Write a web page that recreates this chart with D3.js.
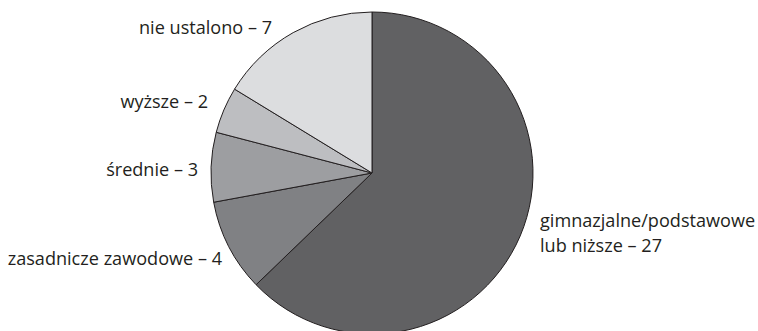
<!DOCTYPE html>
<html>
<head>
<meta charset="utf-8">
<script src="https://cdn.jsdelivr.net/npm/d3@7"></script>
<style>
  html, body { margin: 0; padding: 0; background: #ffffff; }
  svg { display: block; }
  text { font-family: "Open Sans", "Noto Sans", sans-serif; font-size: 18.1px; fill: #231f20; }
</style>
</head>
<body>
<svg id="chart" width="758" height="331"></svg>
<script>
// Education level categories and counts
const categories = [
  "gimnazjalne/podstawowe lub niższe",
  "zasadnicze zawodowe",
  "średnie",
  "wyższe",
  "nie ustalono"
];
const values = [27, 4, 3, 2, 7];
const labelLines = [
  ["gimnazjalne/podstawowe", "lub niższe – 27"],
  ["zasadnicze zawodowe – 4"],
  ["średnie – 3"],
  ["wyższe – 2"],
  ["nie ustalono – 7"]
];
const fills = ["#616163", "#808184", "#9d9ea1", "#bdbec1", "#dcdddf"];

// Label anchors (x, baseline y, anchor) for each slice
const labelLayout = [
  { x: 540, y: 227, anchor: "start" },
  { x: 222, y: 265, anchor: "end" },
  { x: 198, y: 176, anchor: "end" },
  { x: 208, y: 108, anchor: "end" },
  { x: 272, y: 34, anchor: "end" }
];

const cx = 372, cy = 173, radius = 161;
const svg = d3.select("#chart");

const pie = d3.pie().sort(null).value(d => d.value);
const arc = d3.arc().innerRadius(0).outerRadius(radius);

const data = categories.map((c, i) => ({ category: c, value: values[i], i }));

const g = svg.append("g").attr("transform", `translate(${cx},${cy})`);
g.selectAll("path")
  .data(pie(data))
  .join("path")
  .attr("d", arc)
  .attr("fill", d => fills[d.data.i])
  .attr("stroke", "#231f20")
  .attr("stroke-width", 1)
  .attr("stroke-linejoin", "round");

const lineHeight = 25;
svg.selectAll("text.label")
  .data(data)
  .join("text")
  .attr("class", "label")
  .attr("text-anchor", d => labelLayout[d.i].anchor)
  .attr("x", d => labelLayout[d.i].x)
  .attr("y", d => labelLayout[d.i].y)
  .each(function(d) {
    const t = d3.select(this);
    labelLines[d.i].forEach((line, k) => {
      t.append("tspan")
        .attr("x", labelLayout[d.i].x)
        .attr("dy", k === 0 ? 0 : lineHeight)
        .text(line);
    });
  });
</script>
</body>
</html>
